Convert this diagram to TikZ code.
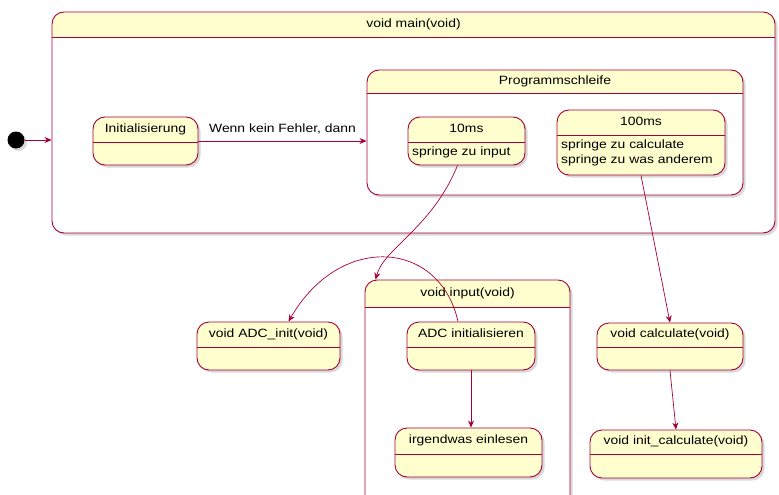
\documentclass[tikz,border=0pt]{standalone}
\usepackage{fontspec}
\setmainfont{Liberation Sans}[FakeStretch=1.16]
\usepackage{tikz}
\usetikzlibrary{calc,positioning,arrows.meta,shadows}
\definecolor{umlred}{HTML}{A80036}
\definecolor{umlfill}{HTML}{FEFECE}
\tikzset{
  line/.style={-{Stealth[length=7pt,width=6pt]}, draw=umlred, line width=0.7pt},
  shade/.style={drop shadow={shadow xshift=2.5pt, shadow yshift=-2.5pt, opacity=0.25, fill=black!60}},
  box/.style={shade, draw=umlred, line width=0.9pt, rounded corners=12pt, inner sep=0pt},
  statebox/.style={box, fill=umlfill, path picture={
      \draw[umlred, line width=0.9pt, sharp corners]
        ([yshift=-#1pt]path picture bounding box.north west) --
        ([yshift=-#1pt]path picture bounding box.north east);}},
  compbox/.style={box, fill=white, path picture={
      \fill[umlfill, sharp corners] (path picture bounding box.north west) rectangle
        ([yshift=-#1pt]path picture bounding box.north east);
      \draw[umlred, line width=0.9pt, sharp corners]
        ([yshift=-#1pt]path picture bounding box.north west) --
        ([yshift=-#1pt]path picture bounding box.north east);}},
  ttl/.style={font=\fontsize{12}{14}\selectfont, inner sep=0pt, text height=9pt, text depth=3pt},
  desc/.style={font=\fontsize{12}{14.5}\selectfont, inner sep=0pt, align=left, anchor=north west}
}

\begin{document}
\begin{tikzpicture}[x=1pt, y=-1pt]
  \useasboundingbox (0,0) rectangle (779,495);
  \clip (0,0) rectangle (779,495);

  % void main
  \node[compbox=25, minimum width=723pt, minimum height=221pt] (main) at (413.5,122.5) {};
  \node[ttl, below=6.5pt of main.north] (mainttl) {void main(void)};
  \node[shade, circle, fill=black, minimum size=17pt, inner sep=0pt] (start) at (16,140) {};
  \node[statebox=25, minimum width=105pt, minimum height=48pt] (init) at (145.5,141) {};
  \node[ttl, below=6.5pt of init.north] (initttl) {Initialisierung};

  % Programmschleife
  \node[compbox=23, minimum width=376pt, minimum height=125pt] (prog) at (555,132.5) {};
  \node[ttl, below=5.5pt of prog.north] (progttl) {Programmschleife};
  \node[statebox=25, minimum width=117pt, minimum height=48pt] (t10) at (466.5,141) {};
  \node[ttl, below=6.5pt of t10.north] (t10ttl) {10ms};
  \node[desc] (t10desc) at (412,147) {springe zu input};
  \node[statebox=25, minimum width=168pt, minimum height=65pt] (t100) at (641,142.5) {};
  \node[ttl, below=6.5pt of t100.north] (t100ttl) {100ms};
  \node[desc] (t100desc) at (561,140) {springe zu calculate\\springe zu was anderem};

  % functions
  \node[statebox=25, minimum width=143pt, minimum height=48pt] (adcinit) at (268.5,346) {};
  \node[ttl, below=6.5pt of adcinit.north] (adcinitttl) {void ADC\_init(void)};
  \node[compbox=27, minimum width=205pt, minimum height=240pt] (input) at (467.5,400) {};
  \node[ttl, below=7.5pt of input.north] (inputttl) {void input(void)};
  \node[statebox=25, minimum width=128pt, minimum height=48pt] (adcin) at (471,346) {};
  \node[ttl, below=6.5pt of adcin.north] (adcinttl) {ADC initialisieren};
  \node[statebox=26, minimum width=147pt, minimum height=49pt] (irgend) at (468.5,452.5) {};
  \node[ttl, below=7pt of irgend.north] (irgendttl) {irgendwas einlesen};
  \node[statebox=24, minimum width=146pt, minimum height=47pt] (calcst) at (670,346.5) {};
  \node[ttl, below=6pt of calcst.north] (calcstttl) {void calculate(void)};
  \node[statebox=24, minimum width=172pt, minimum height=48pt] (initcalc) at (676,454) {};
  \node[ttl, below=6pt of initcalc.north] (initcalcttl) {void init\_calculate(void)};

  % transitions
  \draw[line] (start) -- (start -| main.west);
  \draw[line] (init.east) -- (init.east -| prog.west)
    node[ttl, midway, above=5pt] (lbl) {Wenn kein Fehler, dann};
  \draw[line] ($(t10.south)+(-9,0)$) .. controls (432,228) and (384,248) .. ($(input.north west)+(11,0)$);
  \draw[line] ($(adcin.north)+(-13,0)$) .. controls (440,240) and (340,232) .. ($(adcinit.north)+(20,0)$);
  \draw[line] (adcin.south) -- (adcin.south |- irgend.north);
  \draw[line] (t100.south) -- (calcst.north);
  \draw[line] (calcst.south) -- (initcalc.north);
\end{tikzpicture}
\end{document}
